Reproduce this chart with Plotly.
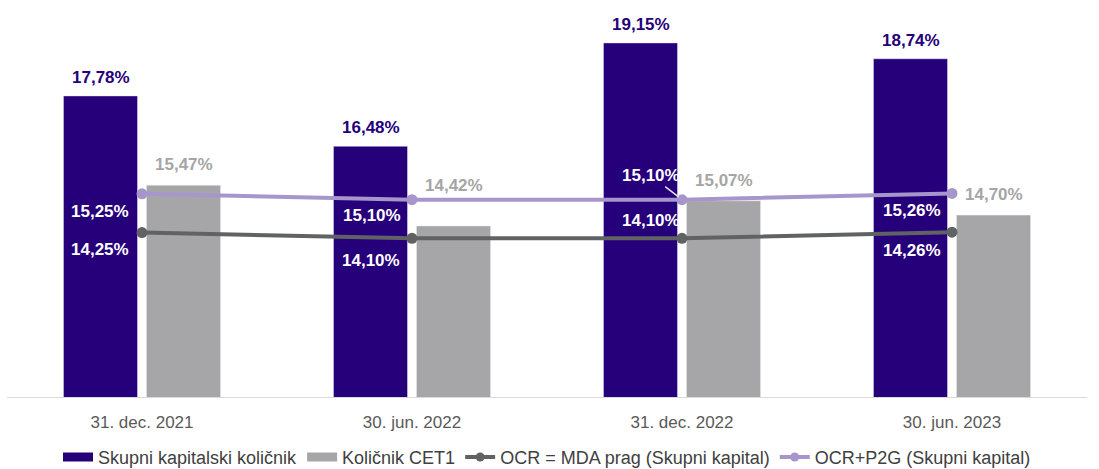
import plotly.graph_objects as go

categories = ["31. dec. 2021", "30. jun. 2022", "31. dec. 2022", "30. jun. 2023"]
skupni = [17.78, 16.48, 19.15, 18.74]
cet1 = [15.47, 14.42, 15.07, 14.70]
ocr_mda = [14.25, 14.10, 14.10, 14.26]
ocr_p2g = [15.25, 15.10, 15.10, 15.26]

names = ["Skupni kapitalski količnik", "Količnik CET1",
         "OCR = MDA prag (Skupni kapital)", "OCR+P2G (Skupni kapital)"]

C_PURPLE = "#25007A"
C_GRAY = "#A6A6A8"
C_DARK = "#616264"
C_LIGHT = "#A796CC"
FONT = "Liberation Sans"


def fmt(v):
    return f"{v:.2f}".replace(".", ",") + "%"


fig = go.Figure()
fig.add_trace(go.Bar(x=categories, y=skupni, marker_color=C_PURPLE, showlegend=False,
                     hoverinfo="skip"))
fig.add_trace(go.Bar(x=categories, y=cet1, marker_color=C_GRAY, showlegend=False,
                     hoverinfo="skip"))
fig.add_trace(go.Scatter(x=categories, y=ocr_mda, mode="lines+markers", name=names[2],
                         line=dict(color=C_DARK, width=4),
                         marker=dict(color=C_DARK, size=11), showlegend=False))
fig.add_trace(go.Scatter(x=categories, y=ocr_p2g, mode="lines+markers", name=names[3],
                         line=dict(color=C_LIGHT, width=4),
                         marker=dict(color=C_LIGHT, size=11), showlegend=False))

# legend entries
fig.add_trace(go.Scatter(x=[None], y=[None], mode="lines", name=names[0],
                         line=dict(color=C_PURPLE, width=9)))
fig.add_trace(go.Scatter(x=[None], y=[None], mode="lines", name=names[1],
                         line=dict(color=C_GRAY, width=9)))
fig.add_trace(go.Scatter(x=[None], y=[None], mode="lines+markers", name=names[2],
                         line=dict(color=C_DARK, width=4), marker=dict(color=C_DARK, size=9)))
fig.add_trace(go.Scatter(x=[None], y=[None], mode="lines+markers", name=names[3],
                         line=dict(color=C_LIGHT, width=4), marker=dict(color=C_LIGHT, size=9)))

annotations = []
bar_dx = 41.5
cet1_extra = [0, 20, 0, 0]
for i, c in enumerate(categories):
    annotations.append(dict(x=c, y=skupni[i], xref="x", yref="y", text=fmt(skupni[i]),
                            showarrow=False, xshift=-bar_dx, yshift=7, yanchor="bottom",
                            font=dict(family=FONT, size=17, color=C_PURPLE, weight="bold")))
    annotations.append(dict(x=c, y=cet1[i], xref="x", yref="y", text=fmt(cet1[i]),
                            showarrow=False, xshift=bar_dx, yshift=9 + cet1_extra[i],
                            yanchor="bottom",
                            font=dict(family=FONT, size=17, color="#A5A5A5", weight="bold")))

p2g_shift = [(-42, -18), (-40, -16), None, (-40, -17)]
mda_shift = [(-42, -17), (-41, -22), (-31, 18), (-40, -18)]
for i, c in enumerate(categories):
    s = p2g_shift[i]
    if s is None:
        annotations.append(dict(x=c, y=ocr_p2g[i], xref="x", yref="y", text=fmt(ocr_p2g[i]),
                                showarrow=True, arrowhead=0, arrowwidth=1.5,
                                arrowcolor="#E6E6E6", ax=-31, ay=-24, standoff=4,
                                font=dict(family=FONT, size=17, color="white", weight="bold")))
    else:
        annotations.append(dict(x=c, y=ocr_p2g[i], xref="x", yref="y", text=fmt(ocr_p2g[i]),
                                showarrow=False, xshift=s[0], yshift=s[1],
                                font=dict(family=FONT, size=17, color="white", weight="bold")))
    s = mda_shift[i]
    annotations.append(dict(x=c, y=ocr_mda[i], xref="x", yref="y", text=fmt(ocr_mda[i]),
                            showarrow=False, xshift=s[0], yshift=s[1],
                            font=dict(family=FONT, size=17, color="white", weight="bold")))

fig.update_layout(
    width=1099, height=469,
    margin=dict(l=7, r=12, t=10, b=72),
    paper_bgcolor="white", plot_bgcolor="white",
    barmode="group", bargap=0.385, bargroupgap=0.108,
    font=dict(family=FONT, size=15, color="#404040"),
    xaxis=dict(showline=True, linecolor="#D9D9D9", linewidth=1, showgrid=False,
               ticks="", ticklabelstandoff=10, tickfont=dict(size=17, color="#595959")),
    yaxis=dict(range=[10, 20], visible=False),
    legend=dict(orientation="h", x=0.5, xanchor="center", yref="container",
                y=0.025, yanchor="middle", font=dict(size=18, color="#404040"),
                itemwidth=30, traceorder="normal"),
    annotations=annotations,
    showlegend=True,
)

fig.write_html("out.html", config={"displayModeBar": False},
               post_script="document.body.style.margin='0';")
